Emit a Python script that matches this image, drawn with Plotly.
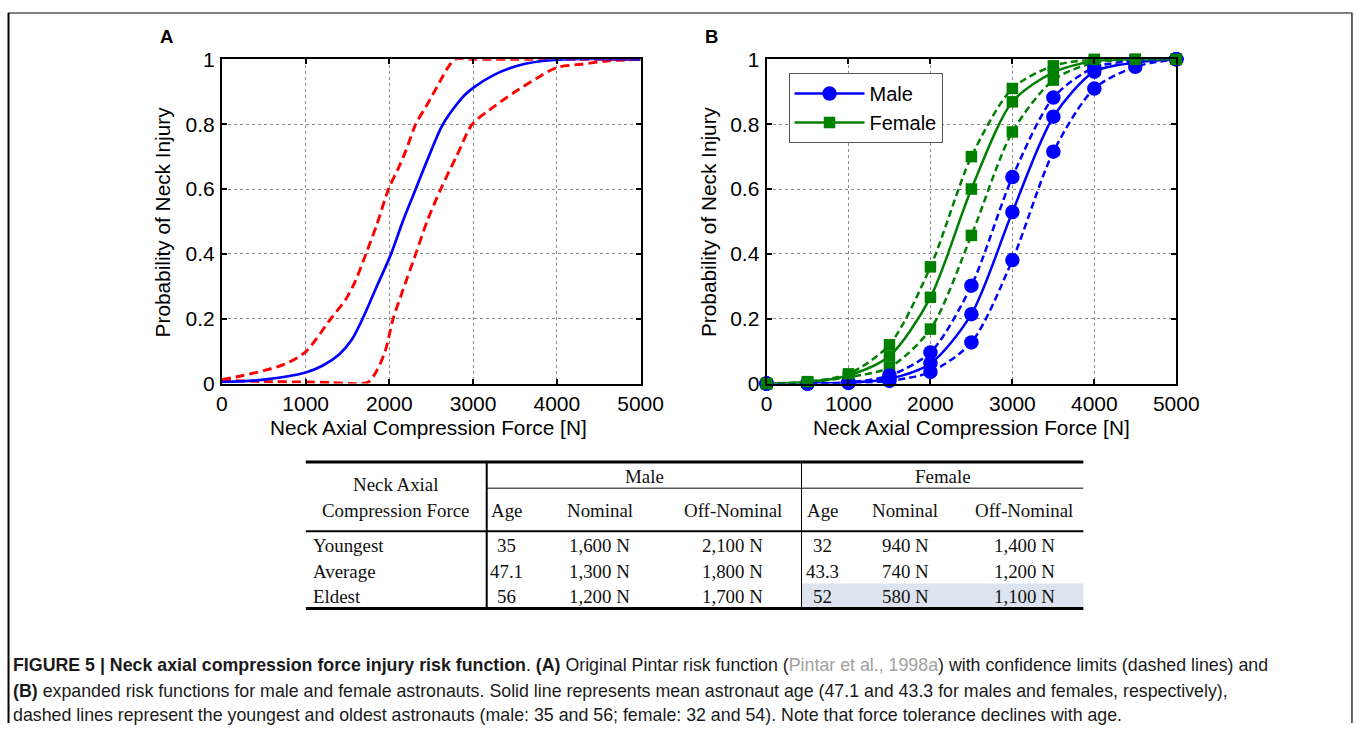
import plotly.graph_objects as go

# The page keeps the browser's default 8px body margin and the photographed
# page appears slightly zoomed out; positions below are given in reference
# pixels and converted with this calibration.
OFF = 8
SX, SY = 0.978, 0.9725
W, H = 1376, 734

# ---------------- Panel A data ----------------
a_mean_force = [0, 500, 1000, 1200, 1400, 1550, 1680, 1850, 2020, 2160, 2315, 2470, 2640, 2800, 2900, 3000, 3250, 3500, 3800, 4100, 5000]
a_mean_prob = [0.005, 0.012, 0.034, 0.055, 0.09, 0.135, 0.2, 0.3, 0.4, 0.5, 0.6, 0.7, 0.8, 0.86, 0.89, 0.912, 0.952, 0.978, 0.994, 1.0, 1.0]

a_upper_force = [0, 250, 500, 750, 1000, 1300, 1480, 1600, 1720, 1850, 1990, 2100, 2200, 2315, 2450, 2600, 2700, 2780, 3000, 5000]
a_upper_prob = [0.012, 0.025, 0.04, 0.06, 0.098, 0.2, 0.26, 0.32, 0.4, 0.49, 0.6, 0.66, 0.72, 0.8, 0.86, 0.93, 0.975, 1.0, 1.0, 1.0]

a_lower_force = [0, 250, 500, 1000, 1300, 1600, 1750, 1850, 1950, 2045, 2150, 2315, 2450, 2613, 2800, 2990, 3200, 3500, 3750, 4000, 4300, 4600, 5000]
a_lower_prob = [0.01, 0.008, 0.006, 0.005, 0.003, 0.0, 0.005, 0.04, 0.1, 0.2, 0.28, 0.4, 0.5, 0.6, 0.7, 0.8, 0.845, 0.9, 0.94, 0.975, 0.985, 0.995, 1.0]

# ---------------- Panel B data ----------------
b_force = [0, 500, 1000, 1500, 2000, 2500, 3000, 3500, 4000, 4500, 5000]
male_youngest = [0, 0, 0.002, 0.008, 0.036, 0.127, 0.381, 0.715, 0.91, 0.977, 1.0]
male_average = [0, 0, 0.003, 0.015, 0.062, 0.214, 0.529, 0.823, 0.962, 0.99, 1.0]
male_eldest = [0, 0, 0.004, 0.025, 0.096, 0.302, 0.637, 0.882, 0.975, 0.995, 1.0]
female_youngest = [0, 0.004, 0.02, 0.05, 0.168, 0.457, 0.776, 0.936, 0.99, 0.998, 1.0]
female_average = [0, 0.005, 0.025, 0.085, 0.266, 0.60, 0.869, 0.96, 0.995, 1.0, 1.0]
female_eldest = [0, 0.006, 0.03, 0.12, 0.36, 0.70, 0.91, 0.98, 1.0, 1.0, 1.0]

x_ticks = [0, 1000, 2000, 3000, 4000, 5000]
y_ticks = [0, 0.2, 0.4, 0.6, 0.8, 1]
y_ticktext = ["0", "0.2", "0.4", "0.6", "0.8", "1"]

# ---------------- Table data ----------------
table_rows = ["Youngest", "Average", "Eldest"]
male_age = ["35", "47.1", "56"]
male_nominal = ["1,600 N", "1,300 N", "1,200 N"]
male_off = ["2,100 N", "1,800 N", "1,700 N"]
female_age = ["32", "43.3", "52"]
female_nominal = ["940 N", "740 N", "580 N"]
female_off = ["1,400 N", "1,200 N", "1,100 N"]
sub_headers = ["Age", "Nominal", "Off-Nominal"]

BLUE = "#0000FF"
RED = "#FF0000"
GREEN = "#008000"


def px(x):
    xc = x + 1.5 * (1 - (x - 222) / (1177 - 222)) if x < 1177 else x
    return (xc / SX - OFF) / W


def py(y):
    yc = y - (4 - 0.00662 * (y - 59))
    return 1 - (yc / SY - OFF) / H


fig = go.Figure()

# Panel A
fig.add_trace(go.Scatter(x=a_upper_force, y=a_upper_prob, mode="lines", xaxis="x", yaxis="y",
                         line=dict(color=RED, width=2.9, dash="9px,5px", shape="spline", smoothing=0.8),
                         showlegend=False, cliponaxis=False))
fig.add_trace(go.Scatter(x=a_lower_force, y=a_lower_prob, mode="lines", xaxis="x", yaxis="y",
                         line=dict(color=RED, width=2.9, dash="9px,5px", shape="spline", smoothing=0.8),
                         showlegend=False, cliponaxis=False))
fig.add_trace(go.Scatter(x=a_mean_force, y=a_mean_prob, mode="lines", xaxis="x", yaxis="y",
                         line=dict(color=BLUE, width=2.7, shape="spline", smoothing=1.0),
                         showlegend=False, cliponaxis=False))


# Panel B
def add_b(y, color, symbol, size, dash, name, legend):
    fig.add_trace(go.Scatter(x=b_force, y=y, mode="lines+markers", xaxis="x2", yaxis="y2",
                             name=name, showlegend=legend,
                             line=dict(color=color, width=2.5, dash=dash, shape="spline", smoothing=0.8),
                             marker=dict(color=color, symbol=symbol, size=size,
                                         line=dict(color=color, width=0)),
                             cliponaxis=False))


add_b(male_youngest, BLUE, "circle", 14.5, "7px,4px", "Male youngest", False)
add_b(female_youngest, GREEN, "square", 11.5, "7px,4px", "Female youngest", False)
add_b(male_average, BLUE, "circle", 14.5, "solid", "Male", True)
add_b(female_average, GREEN, "square", 11.5, "solid", "Female", True)
add_b(male_eldest, BLUE, "circle", 14.5, "7px,4px", "Male eldest", False)
add_b(female_eldest, GREEN, "square", 11.5, "7px,4px", "Female eldest", False)

tick_font = dict(family="Liberation Sans, Arial, sans-serif", size=21, color="black")
title_font = dict(family="Liberation Sans, Arial, sans-serif", size=20.8, color="black")

common_x = dict(range=[0, 5000], tickvals=x_ticks, showgrid=True, gridcolor="#8a8a8a", griddash="dot",
                gridwidth=1, showline=True, linecolor="black", linewidth=2, mirror="ticks",
                ticks="inside", ticklen=5, tickcolor="black", tickwidth=2, tickfont=tick_font,
                zeroline=False, fixedrange=True)
common_y = dict(range=[0, 1], tickvals=y_ticks, ticktext=y_ticktext, showgrid=True, gridcolor="#8a8a8a",
                griddash="dot", gridwidth=1, showline=True, linecolor="black", linewidth=2, mirror="ticks",
                ticks="inside", ticklen=5, tickcolor="black", tickwidth=2, tickfont=tick_font,
                zeroline=False, fixedrange=True, ticklabelstandoff=1)

y_dom = [py(382.7), py(59.3)]
fig.update_layout(
    width=W, height=H,
    margin=dict(l=0, r=0, t=0, b=0),
    paper_bgcolor="white", plot_bgcolor="white",
    xaxis=dict(domain=[px(222), px(641)], anchor="y", **common_x),
    yaxis=dict(domain=y_dom, anchor="x", **common_y),
    xaxis2=dict(domain=[px(767), px(1177)], anchor="y2", **common_x),
    yaxis2=dict(domain=y_dom, anchor="x2", **common_y),
    legend=dict(x=px(789), y=py(73), xanchor="left", yanchor="top", bgcolor="white",
                bordercolor="#555555", borderwidth=1,
                font=dict(family="Liberation Sans, Arial", size=20, color="black"),
                itemwidth=70, tracegroupgap=0),
    showlegend=True,
)

ann = []
shapes = []


def pann(x, y, text, font, angle=0, xanchor="center", yanchor="middle", align="center"):
    ann.append(dict(x=px(x), y=py(y), text=text, showarrow=False, xref="paper", yref="paper",
                    xanchor=xanchor, yanchor=yanchor, align=align, textangle=angle, font=font))


# Panel labels and axis titles
label_font = dict(family="Liberation Sans, Arial", size=18.5, color="black")
pann(167, 37, "<b>A</b>", label_font)
pann(712, 37, "<b>B</b>", label_font)
for cx in [429, 972]:
    pann(cx, 426, "Neck Axial Compression Force [N]", title_font)
for cx in [163, 709]:
    pann(cx, 221, "Probability of Neck Injury", title_font, angle=-90)

# Table
tfont = dict(family="Liberation Serif, Times New Roman, serif", size=18.9, color="#111111")
T_L, T_R = 306, 1084
V1, V2 = 487, 802


def hline(x0, x1, y, w):
    shapes.append(dict(type="line", xref="paper", yref="paper", x0=px(x0), x1=px(x1), y0=py(y), y1=py(y),
                       line=dict(color="black", width=w)))


def vline(x, y0, y1, w, color="black"):
    shapes.append(dict(type="line", xref="paper", yref="paper", x0=px(x), x1=px(x), y0=y0, y1=y1,
                       line=dict(color=color, width=w)))


shapes.append(dict(type="rect", xref="paper", yref="paper", x0=px(V2), x1=px(T_R), y0=py(606), y1=py(582),
                   fillcolor="#dce4ef", line=dict(width=0), layer="below"))
hline(T_L, T_R, 461, 3)
hline(V1, T_R, 487, 1)
hline(T_L, T_R, 530, 2)
hline(T_L, T_R, 607, 3)
vline(V1, py(461), py(607), 2)
vline(V2, py(461), py(607), 1)

pann(396, 483, "Neck Axial", tfont)
pann(396, 509, "Compression Force", tfont)
pann(645, 475, "Male", tfont)
pann(944, 475, "Female", tfont)
male_cols = [507, 600, 733]
female_cols = [823, 906, 1025]
for cx, h in zip(male_cols, sub_headers):
    pann(cx, 509, h, tfont)
for cx, h in zip(female_cols, sub_headers):
    pann(cx, 509, h, tfont)
row_y = [544, 570, 595]
for i, ry in enumerate(row_y):
    pann(311, ry, table_rows[i], tfont, xanchor="left")
    pann(male_cols[0], ry, male_age[i], tfont)
    pann(male_cols[1], ry, male_nominal[i], tfont)
    pann(male_cols[2], ry, male_off[i], tfont)
    pann(female_cols[0], ry, female_age[i], tfont)
    pann(female_cols[1], ry, female_nominal[i], tfont)
    pann(female_cols[2], ry, female_off[i], tfont)

# Caption
cfont = dict(family="Liberation Sans, Arial, sans-serif", size=17.8, color="#1a1a1a")
caption_lines = [
    "<b>FIGURE 5 | Neck axial compression force injury risk function</b>. <b>(A)</b> Original Pintar risk function "
    "(<span style='color:#a0a0a0'>Pintar et al., 1998a</span>) with confidence limits (dashed lines) and",
    "<b>(B)</b> expanded risk functions for male and female astronauts. Solid line represents mean astronaut age "
    "(47.1 and 43.3 for males and females, respectively),",
    "dashed lines represent the youngest and oldest astronauts (male: 35 and 56; female: 32 and 54). "
    "Note that force tolerance declines with age.",
]
for cy, line in zip([663, 689, 713], caption_lines):
    pann(11, cy, line, cfont, xanchor="left", align="left")

# Outer frame (top edge of the drawable page area)
top_y = 1 - 1.0 / H
shapes.append(dict(type="line", xref="paper", yref="paper", x0=px(8), x1=px(1353), y0=top_y, y1=top_y,
                   line=dict(color="#808080", width=2)))
vline(8.5, top_y, 0, 2)
vline(1352.5, top_y, 0, 1.5, color="#333333")

fig.update_layout(annotations=ann, shapes=shapes)
fig.write_html("out.html")
